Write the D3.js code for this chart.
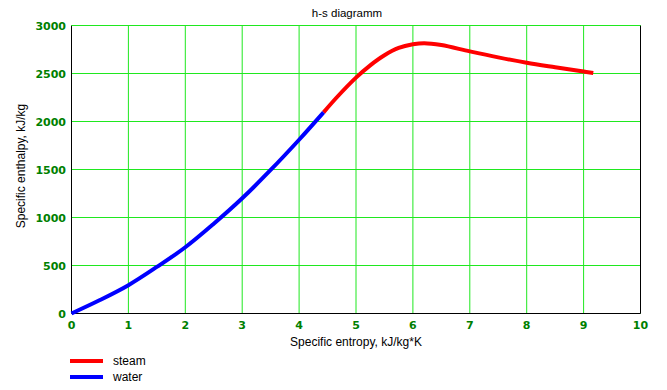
<!DOCTYPE html>
<html><head><meta charset="utf-8">
<script src="https://cdn.jsdelivr.net/npm/d3@7"></script>
<style>body{margin:0;background:#fff}svg{display:block}</style>
</head><body>
<script>
const title = "h-s diagramm";
const xLabel = "Specific entropy, kJ/kg*K";
const yLabel = "Specific enthalpy, kJ/kg";
const xTicks = [0,1,2,3,4,5,6,7,8,9,10];
const yTicks = [0,500,1000,1500,2000,2500,3000];
const waterS = [0, 0.5, 1, 1.5, 2, 2.5, 3, 3.5, 4, 4.43];
const waterH = [0, 140, 295, 485, 690, 935, 1200, 1495, 1810, 2095];
const steamS = [4.43, 4.66, 5, 5.25, 5.5, 5.75, 6, 6.2, 6.5, 7, 7.5, 8, 8.5, 9, 9.17];
const steamH = [2095, 2250, 2457, 2585, 2690, 2766, 2804, 2816, 2796, 2730, 2668, 2612, 2565, 2520, 2505];
const seriesNames = ["steam", "water"];
const seriesColors = ["#ff0000", "#0000ff"];

const W = 667, H = 390;
const svg = d3.select("body").append("svg").attr("width", W).attr("height", H);
const x = d3.scaleLinear().domain([0,10]).range([71.5, 640.5]);
const y = d3.scaleLinear().domain([0,3000]).range([313.5, 25.5]);
const grid = "#1fe81f";
const tickColor = "#008000";

// gridlines
svg.append("g").selectAll("line").data(xTicks.slice(1)).join("line")
  .attr("x1", d => x(d)).attr("x2", d => x(d)).attr("y1", y(0)).attr("y2", y(3000))
  .attr("stroke", grid).attr("stroke-width", 1);
svg.append("g").selectAll("line").data(yTicks.slice(1)).join("line")
  .attr("x1", x(0)).attr("x2", x(10)).attr("y1", d => y(d)).attr("y2", d => y(d))
  .attr("stroke", grid).attr("stroke-width", 1);

// frame: left, bottom, right black
svg.append("line").attr("x1", x(0)).attr("x2", x(0)).attr("y1", y(0)).attr("y2", y(3000)).attr("stroke","#000");
svg.append("line").attr("x1", x(0)).attr("x2", x(10)).attr("y1", y(0)).attr("y2", y(0)).attr("stroke","#000");
svg.append("line").attr("x1", x(10)).attr("x2", x(10)).attr("y1", y(0)).attr("y2", y(3000)).attr("stroke","#000");
svg.append("line").attr("x1", x(0)).attr("x2", x(10)).attr("y1", y(3000)).attr("y2", y(3000)).attr("stroke",grid);

// tick labels
const tf = "bold 11px 'DejaVu Sans', Verdana, sans-serif";
svg.append("g").selectAll("text").data(xTicks).join("text")
  .attr("x", d => x(d)).attr("y", 329).attr("text-anchor","middle")
  .style("font", tf).attr("fill", tickColor).text(d => d);
svg.append("g").selectAll("text").data(yTicks).join("text")
  .attr("x", 66).attr("y", d => y(d) + 4).attr("text-anchor","end")
  .style("font", tf).attr("fill", tickColor).text(d => d);

// titles
const lf = "12px 'Liberation Sans', Arial, sans-serif";
svg.append("text").attr("x", 347).attr("y", 17).attr("text-anchor","middle").style("font", "11.5px 'Liberation Sans', Arial, sans-serif").attr("fill","#000").text(title);
svg.append("text").attr("x", 356).attr("y", 346).attr("text-anchor","middle").style("font", lf).attr("fill","#000").text(xLabel);
svg.append("text").attr("transform","translate(25,166) rotate(-90)").attr("text-anchor","middle").style("font", lf).attr("fill","#000").text(yLabel);

// curves
const line = d3.line().x(d => x(d[0])).y(d => y(d[1])).curve(d3.curveCatmullRom.alpha(0.5));
const water = waterS.map((s,i) => [s, waterH[i]]);
const steam = steamS.map((s,i) => [s, steamH[i]]);
svg.append("path").datum(steam).attr("d", line).attr("fill","none").attr("stroke", seriesColors[0]).attr("stroke-width", 4);
svg.append("path").datum(water).attr("d", line).attr("fill","none").attr("stroke", seriesColors[1]).attr("stroke-width", 4);

// legend
const lg = svg.append("g").selectAll("g").data(seriesNames).join("g")
  .attr("transform", (d,i) => `translate(70,${361 + i*16})`);
lg.append("line").attr("x1",0).attr("x2",33).attr("y1",0).attr("y2",0)
  .attr("stroke",(d,i)=>seriesColors[i]).attr("stroke-width",4);
lg.append("text").attr("x", 43).attr("y", 4).style("font", "12px 'Liberation Sans', Arial, sans-serif").attr("fill","#000").text(d => d);
</script>
</body></html>
